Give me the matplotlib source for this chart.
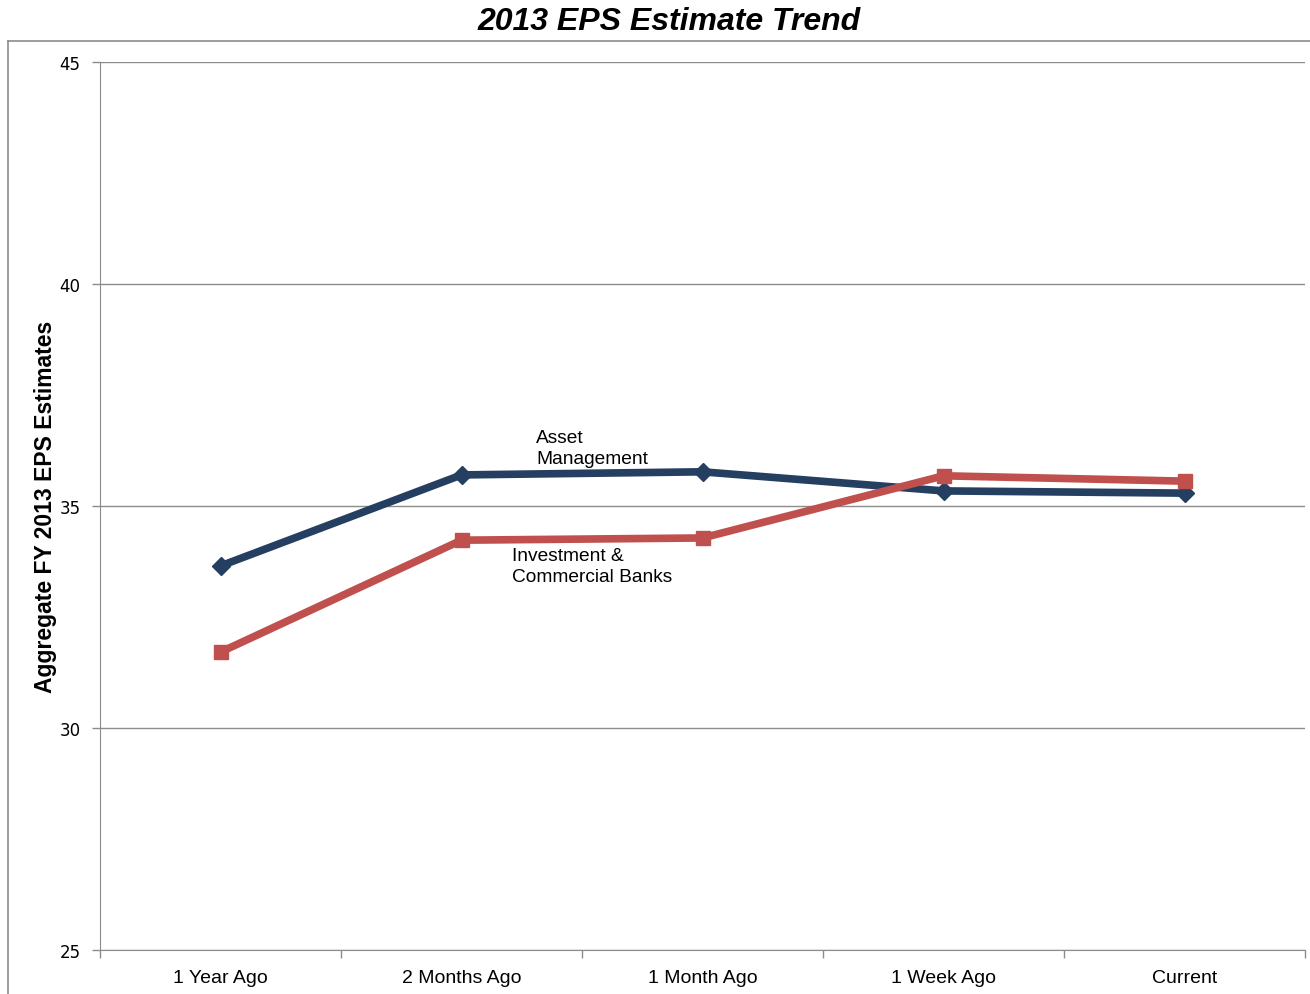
import matplotlib.pyplot as plt
import numpy as np
from matplotlib.lines import Line2D

periods = ['1 Year Ago', '2 Months Ago', '1 Month Ago', '1 Week Ago', 'Current']
asset_mgmt = [33.65, 35.70, 35.77, 35.34, 35.29]
banks = [31.71, 34.23, 34.28, 35.68, 35.56]

plt.rcParams['font.family'] = ['Liberation Sans', 'DejaVu Sans']

fig = plt.figure(figsize=(13.1, 9.95), dpi=100)
ax = fig.add_axes([100/1310, 1 - 951/995, 1205/1310, 888/995])

x = np.arange(len(periods))
ax.plot(x, asset_mgmt, color='#243F60', lw=5.5, marker='D', ms=9, zorder=3)
ax.plot(x, banks, color='#C0504D', lw=5.5, marker='s', ms=10, zorder=3)

ax.set_xlim(-0.5, len(periods) - 0.5)
ax.set_ylim(25, 45)
ax.set_yticks(np.arange(25, 46, 5))
ax.yaxis.grid(True, color='#8C8C8C', lw=1)
ax.set_axisbelow(True)

ax.set_xticks(x)
ax.set_xticklabels(periods, fontsize=14)
ax.set_xticks(np.arange(-0.5, len(periods), 1), minor=True)
ax.tick_params(axis='x', which='major', length=0, pad=14)
ax.tick_params(axis='x', which='minor', length=6, color='#8C8C8C', width=1)
ax.tick_params(axis='y', length=6, color='#8C8C8C', width=1, pad=8,
               labelsize=12, labelfontfamily='DejaVu Sans')

for s in ['top', 'right']:
    ax.spines[s].set_visible(False)
for s in ['left', 'bottom']:
    ax.spines[s].set_color('#8C8C8C')

ax.set_ylabel('Aggregate FY 2013 EPS Estimates', fontsize=16.5, fontweight='bold', labelpad=2)
fig.suptitle('2013 EPS Estimate Trend', x=669/1310, fontsize=23, fontweight='bold', style='italic', y=0.993)

ax.text(1.31, 36.74, 'Asset\nManagement', fontsize=13.8, va='top', ha='left', linespacing=1.35)
ax.text(1.21, 34.08, 'Investment &\nCommercial Banks', fontsize=13.8, va='top', ha='left', linespacing=1.35)

# chart-area frame on the left and top
fig.add_artist(Line2D([8/1310, 8/1310], [0, 1 - 42/995], transform=fig.transFigure, color='#8C8C8C', lw=1.2))
fig.add_artist(Line2D([8/1310, 1], [1 - 42/995, 1 - 42/995], transform=fig.transFigure, color='#8C8C8C', lw=1.2))

fig.savefig('out.png', dpi=100)
